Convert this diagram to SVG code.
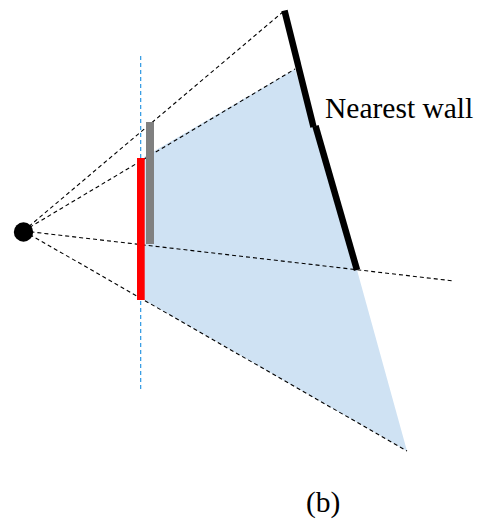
<svg xmlns="http://www.w3.org/2000/svg" width="477" height="529" viewBox="0 0 477 529">
<style>
.ray{stroke:#000;stroke-width:1.1;stroke-dasharray:4,3;fill:none}
.lbl{font-family:'Liberation Serif','Times New Roman',serif;font-size:29.5px;fill:#000}
</style>
<rect width="477" height="529" fill="#fff"/>
<g id="visible-region">
<polygon points="144,157 295,69 357,270 407,451 144,300" fill="#cfe2f3"/>
</g>
<g id="screen-plane">
<line x1="140.7" y1="56" x2="140.7" y2="389" stroke="#1a8ee0" stroke-width="1.1" stroke-dasharray="4,3"/>
</g>
<g id="connectors">
<line class="ray" x1="23.5" y1="231" x2="284" y2="11"/>
<line class="ray" x1="23.5" y1="231" x2="295" y2="69"/>
<line class="ray" x1="23.5" y1="231" x2="454" y2="281"/>
<line class="ray" x1="23.5" y1="231" x2="407" y2="451"/>
</g>
<g id="gray-bar">
<rect x="146" y="122" width="8" height="122" fill="#808080"/>
</g>
<g id="red-bar">
<rect x="137" y="158" width="7.7" height="142" fill="#ff0000"/>
</g>
<g id="camera">
<circle cx="23.5" cy="232" r="9.7" fill="#000"/>
</g>
<g id="nearest-wall">
<line x1="284.5" y1="10.5" x2="313.5" y2="127" stroke="#000" stroke-width="6.5"/>
<line x1="315.5" y1="126" x2="357" y2="270" stroke="#000" stroke-width="6.5"/>
<text class="lbl" x="325" y="118">Nearest wall</text>
</g>
<g id="caption">
<text class="lbl" x="306" y="512">(b)</text>
</g>
</svg>
